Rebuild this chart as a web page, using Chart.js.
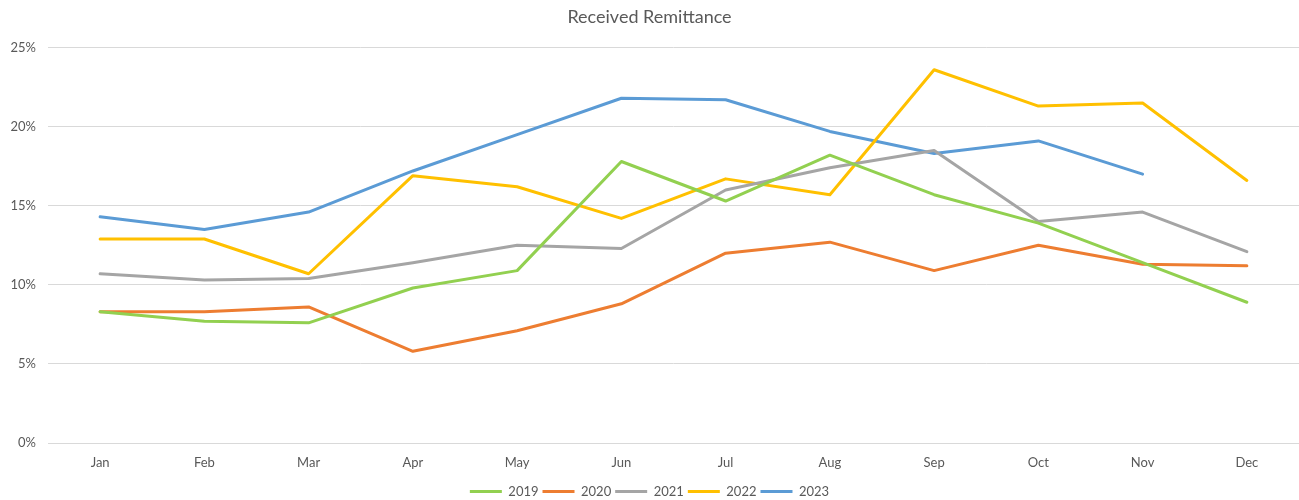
<!DOCTYPE html>
<html>
<head>
<meta charset="utf-8">
<title>Received Remittance</title>
<script src="https://cdn.jsdelivr.net/npm/chart.js@4"></script>
<style>
  html, body { margin: 0; padding: 0; background: #fff; }
  #wrap { width: 1299px; height: 500px; }
</style>
</head>
<body>
<div id="wrap"><canvas id="remitChart" width="1299" height="500"></canvas></div>
<script>
const months = ['Jan', 'Feb', 'Mar', 'Apr', 'May', 'Jun', 'Jul', 'Aug', 'Sep', 'Oct', 'Nov', 'Dec'];
const yTicks = [0, 5, 10, 15, 20, 25];

// values in percent
const y2019 = [8.3, 7.7, 7.6, 9.8, 10.9, 17.8, 15.3, 18.2, 15.7, 13.9, 11.4, 8.9];
const y2020 = [8.3, 8.3, 8.6, 5.8, 7.1, 8.8, 12.0, 12.7, 10.9, 12.5, 11.3, 11.2];
const y2021 = [10.7, 10.3, 10.4, 11.4, 12.5, 12.3, 16.0, 17.4, 18.5, 14.0, 14.6, 12.1];
const y2022 = [12.9, 12.9, 10.7, 16.9, 16.2, 14.2, 16.7, 15.7, 23.6, 21.3, 21.5, 16.6];
const y2023 = [14.3, 13.5, 14.6, 17.2, 19.5, 21.8, 21.7, 19.7, 18.3, 19.1, 17.0, null];

const seriesNames = ['2019', '2020', '2021', '2022', '2023'];
const seriesData = [y2019, y2020, y2021, y2022, y2023];
const seriesColors = ['#92D050', '#ED7D31', '#A5A5A5', '#FFC000', '#5B9BD5'];

const textColor = '#595959';
const fontFamily = 'Lato, "Open Sans", sans-serif';

const datasets = seriesNames.map((name, i) => ({
  label: name,
  data: seriesData[i],
  borderColor: seriesColors[i],
  backgroundColor: seriesColors[i],
  borderWidth: 3,
  pointRadius: 0,
  pointHoverRadius: 0,
  tension: 0,
  borderJoinStyle: 'round',
  borderCapStyle: 'round',
  spanGaps: false
}));

new Chart(document.getElementById('remitChart'), {
  type: 'line',
  data: { labels: months, datasets: datasets },
  options: {
    responsive: false,
    animation: false,
    layout: { padding: { left: 0, right: 0, top: 0, bottom: -8 } },
    plugins: {
      title: {
        display: true,
        text: 'Received Remittance',
        color: textColor,
        font: { family: fontFamily, size: 18, weight: 'normal' },
        padding: { top: 6, bottom: 20 }
      },
      legend: {
        position: 'bottom',
        labels: {
          color: textColor,
          font: { family: fontFamily, size: 13 },
          usePointStyle: true,
          pointStyle: 'line',
          pointStyleWidth: 32,
          boxHeight: 4,
          padding: 4
        }
      },
      tooltip: { enabled: false }
    },
    scales: {
      x: {
        offset: true,
        afterFit: (scale) => { scale.height = 38; },
        grid: { display: false },
        border: { display: true, color: '#D9D9D9' },
        ticks: {
          color: textColor,
          font: { family: fontFamily, size: 13 },
          padding: 4,
          maxRotation: 0
        }
      },
      y: {
        min: 0,
        max: 25,
        afterBuildTicks: (scale) => {
          scale.ticks = yTicks.map(v => ({ value: v }));
        },
        afterFit: (scale) => { scale.width = 48; },
        grid: { color: '#D9D9D9', lineWidth: 1, drawTicks: false },
        border: { display: false },
        ticks: {
          color: textColor,
          font: { family: fontFamily, size: 13 },
          padding: 12,
          callback: (v) => v + '%'
        }
      }
    }
  }
});
</script>
</body>
</html>
